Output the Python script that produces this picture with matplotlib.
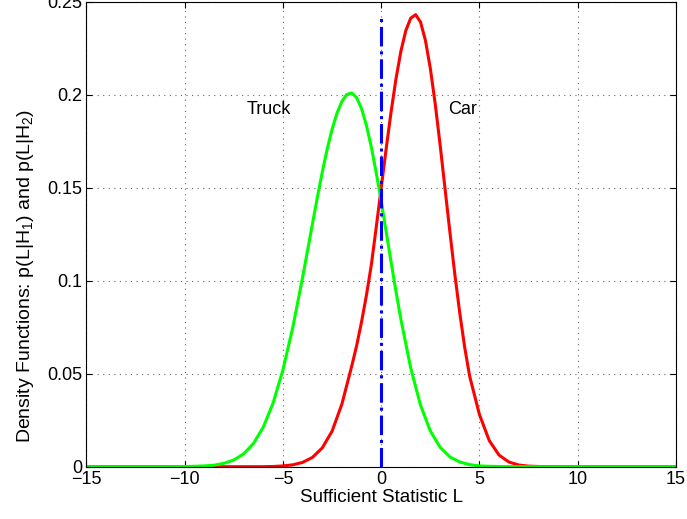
import matplotlib
matplotlib.use("Agg")
import matplotlib.pyplot as plt

# values
truck_x = [-15, -11, -10, -9.5, -9, -8.5, -8, -7.5, -7, -6.5, -6, -5.5, -5, -4.5,
           -4, -3.75, -3.5, -3.25, -3, -2.75, -2.5, -2.25, -2, -1.75, -1.5, -1.25,
           -1, -0.75, -0.5, -0.25, 0, 0.25, 0.5, 0.75, 1, 1.5, 2, 2.5, 3,
           3.5, 4, 4.5, 5, 5.5, 6, 7, 15]
truck_y = [0, 0, 0.0001, 0.0002, 0.0004, 0.0008, 0.0018, 0.0036, 0.0069, 0.0125,
           0.0213, 0.0343, 0.0521, 0.0749, 0.1018, 0.1161, 0.1306, 0.1448, 0.1584,
           0.1707, 0.1814, 0.1901, 0.1964, 0.2001, 0.2009, 0.1984, 0.1925, 0.1834,
           0.1717, 0.1578, 0.1428, 0.1265, 0.1102, 0.0943, 0.0793, 0.0531, 0.0331,
           0.0192, 0.0104, 0.0052, 0.0025, 0.0011, 0.0004, 0.0002, 0.0001, 0, 0]

car_x = [-15, -7, -6, -5.5, -5, -4.5, -4, -3.5, -3, -2.5, -2, -1.5, -1.25, -1,
         -0.75, -0.5, -0.25, 0, 0.25, 0.5, 0.75, 1, 1.25, 1.5, 1.75, 2, 2.25, 2.5,
         2.75, 3, 3.25, 3.5, 3.75, 4, 4.25, 4.5, 5, 5.5, 6, 6.5, 7, 7.5, 8, 9, 15]
car_y = [0, 0, 0, 0.0001, 0.0004, 0.0010, 0.0023, 0.0050, 0.0101, 0.0191, 0.0337,
         0.0541, 0.0651, 0.0779, 0.0923, 0.1087, 0.1290, 0.1499, 0.1708, 0.1906,
         0.2084, 0.2233, 0.2344, 0.2411, 0.2430, 0.2391, 0.2292, 0.2141, 0.1949,
         0.1728, 0.1493, 0.1257, 0.1031, 0.0824, 0.0641, 0.0487, 0.0280, 0.0140,
         0.0062, 0.0025, 0.0009, 0.0003, 0.0001, 0, 0]

threshold = 0.0
xticks = [-15, -10, -5, 0, 5, 10, 15]
yticks = [0, 0.05, 0.1, 0.15, 0.2, 0.25]
ytick_labels = ["0", "0.05", "0.1", "0.15", "0.2", "0.25"]

plt.rcParams["font.family"] = ["Liberation Sans", "DejaVu Sans"]
plt.rcParams["mathtext.fontset"] = "custom"
plt.rcParams["mathtext.rm"] = "Liberation Sans"
plt.rcParams["mathtext.it"] = "Liberation Sans"

fig = plt.figure(figsize=(6.87, 5.19), dpi=100)
ax = fig.add_axes([0.1259, 0.1008, 0.858, 0.896])

ax.plot(car_x, car_y, color="#ff0000", linewidth=2.2)
ax.plot(truck_x, truck_y, color="#00ff00", linewidth=2.2)
ax.plot([threshold, threshold], [0, max(car_y)], color="#0000ff",
        linestyle="-.", linewidth=2.2)

ax.text(-6.85, 0.192, "Truck", fontsize=13, ha="left", va="center")
ax.text(3.4, 0.192, "Car", fontsize=13, ha="left", va="center")

ax.set_xlim(-15, 15)
ax.set_ylim(0, 0.25)
ax.set_xticks(xticks)
ax.set_yticks(yticks)
ax.set_yticklabels(ytick_labels)
ax.tick_params(direction="in", top=True, right=True, length=4, labelsize=13, pad=3)
ax.grid(True, linestyle=(0, (1, 4)), color="0.4", linewidth=0.8)
ax.set_xlabel("Sufficient Statistic L", fontsize=13.5, labelpad=1)
ax.set_ylabel("Density Functions: p(L|H$_1$) and p(L|H$_2$)", fontsize=14,
              labelpad=8)
ax.yaxis.label.set_y(0.41)

fig.savefig("out.png", dpi=100)
